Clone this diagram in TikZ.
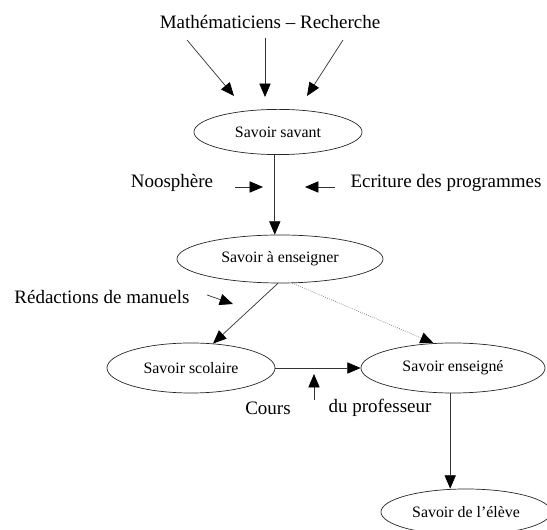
\documentclass[tikz,border=0pt]{standalone}
\usepackage{fontspec}
\setmainfont{Liberation Serif}
\usetikzlibrary{shapes.geometric, arrows.meta}

\begin{document}
\begin{tikzpicture}[x=0.025cm, y=-0.025cm, lbl/.style={inner sep=0pt, font=\fontsize{13.5}{16}\selectfont}]
\tikzstyle{sav}=[ellipse, draw=black!85, line width=0.5pt, inner sep=0pt, font=\fontsize{11.3}{13}\selectfont]
\tikzstyle{arr}=[draw=black!80, line width=0.5pt, -{Triangle[length=9.5pt,width=8pt,color=black]}]
\useasboundingbox (0,0) rectangle (547,530);
% savoirs
\node[sav, minimum width=4.2cm, minimum height=1.13cm] (SS) at (278,132){Savoir savant};
\node[sav, minimum width=5.15cm, minimum height=1.2cm] (SE) at (280,259){Savoir à enseigner};
\node[sav, minimum width=4.2cm, minimum height=1.25cm] (SC) at (191,368){Savoir scolaire};
\node[sav, minimum width=4.6cm, minimum height=1.25cm] (SEN) at (453,368){Savoir enseigné};
\node[sav, minimum width=4.25cm, minimum height=1.15cm] (SEL) at (466,512){Savoir de l'élève};
% textes
\node[lbl] (T) at (270,22){Mathématiciens -- Recherche};
\node[lbl] (N) at (172,183){Noosphère};
\node[lbl] (E) at (446,183){Ecriture des programmes};
\node[lbl] (R) at (102,297){Rédactions de manuels};
\node[lbl] (C) at (268,408){Cours};
\node[lbl] (P) at (380,408){du professeur};
\coordinate (t1) at (187,40); \coordinate (e1) at (234,96);
\coordinate (t2) at (265,38); \coordinate (e2) at (265,97);
\coordinate (t3) at (343,40); \coordinate (e3) at (307,96);
\coordinate (n1) at (235,187); \coordinate (n2) at (263,187);
\coordinate (w1) at (335,187); \coordinate (w2) at (305,187);
\coordinate (m1) at (207,295); \coordinate (m2) at (233,304);
\coordinate (c1) at (314,400); \coordinate (c2) at (314,374);
\foreach \i/\j in {t1/e1,t2/e2,t3/e3,n1/n2,w1/w2,m1/m2,c1/c2}{\draw[arr] (\i) -- (\j);}
\draw[arr] ([xshift=-0.08cm]SS.south) -- ([xshift=-0.08cm]SS.south |- SE.north);
\draw[arr] (SE.265) -- (SC.48);
\draw[arr, densely dotted, draw=black!55] (SE.-63) -- (SEN.128);
\draw[arr] (SC.east) -- (SEN.west);
\draw[arr] ([xshift=-0.07cm]SEN.south) -- ([xshift=-0.07cm]SEN.south |- SEL.north);
\end{tikzpicture}
\end{document}
